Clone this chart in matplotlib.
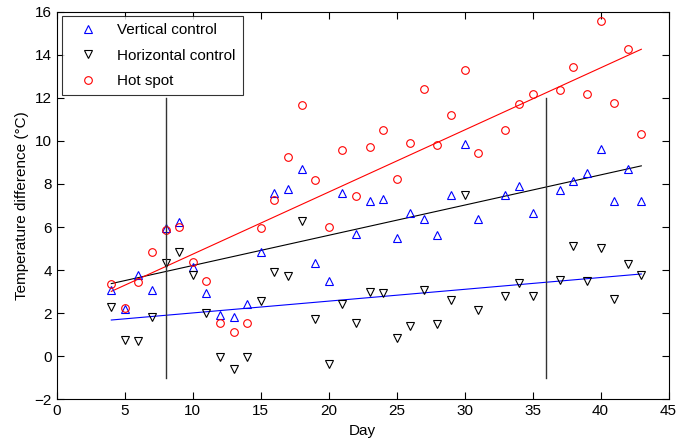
import numpy as np
import matplotlib
matplotlib.use("Agg")
import matplotlib.pyplot as plt

plt.rcParams['font.family'] = ['Liberation Sans', 'DejaVu Sans']

days = [4, 5, 6, 7, 8, 9, 10, 11, 12, 13, 14, 15, 16, 17, 18, 19, 20, 21, 22,
        23, 24, 25, 26, 27, 28, 29, 30, 31, 33, 34, 35, 37, 38, 39, 40, 41, 42, 43]

vertical = [3.09, 2.18, 3.75, 3.06, 5.95, 6.23, 4.14, 2.93, 1.91, 1.80, 2.42, 4.86,
            7.56, 7.75, 8.71, 4.35, 3.50, 7.56, 5.69, 7.20, 7.28, 5.49, 6.67, 6.35,
            5.65, 7.50, 9.87, 6.38, 7.48, 7.91, 6.67, 7.72, 8.14, 8.53, 9.65, 7.23,
            8.71, 7.23]

horizontal = [2.27, 0.74, 0.71, 1.80, 4.35, 4.85, 3.75, 2.02, -0.05, -0.60, -0.02, 2.55,
              3.91, 3.72, 6.26, 1.71, -0.39, 2.42, 1.52, 2.96, 2.93, 0.82, 1.40, 3.06,
              1.47, 2.59, 7.51, 2.15, 2.78, 3.40, 2.78, 3.56, 5.10, 3.48, 5.02, 2.65,
              4.30, 3.75]

hot_spot = [3.36, 2.23, 3.45, 4.82, 5.88, 6.02, 4.38, 3.51, 1.55, 1.13, 1.55, 5.95,
            7.25, 9.25, 11.69, 8.19, 5.99, 9.57, 7.44, 9.74, 10.51, 8.24, 9.90, 12.42,
            9.79, 11.22, 13.29, 9.44, 10.53, 11.70, 12.19, 12.39, 13.44, 12.19, 15.56,
            11.78, 14.26, 10.31]

marker_days = [8, 36]

fig = plt.figure(figsize=(6.78, 4.41), dpi=100)
ax = fig.add_axes([0.084, 0.095, 0.902, 0.878])

d = np.array(days, dtype=float)
xfit = np.array([d.min(), d.max()])

# fitted trends (line colours as in the source figure)
for series, col in [(horizontal, 'blue'), (vertical, 'black'), (hot_spot, 'red')]:
    k, b = np.polyfit(d, series, 1)
    ax.plot(xfit, k * xfit + b, color=col, lw=0.8)

ax.plot(days, vertical, '^', mfc='none', mec='blue', ms=6, mew=0.8, label='Vertical control')
ax.plot(days, horizontal, 'v', mfc='none', mec='black', ms=6, mew=0.8, label='Horizontal control')
ax.plot(days, hot_spot, 'o', mfc='none', mec='red', ms=5.5, mew=0.8, label='Hot spot')

for xd in marker_days:
    ax.plot([xd, xd], [-1, 12], color='#333333', lw=1)

ax.set_xlim(0, 45)
ax.set_ylim(-2, 16)
ax.set_xticks(range(0, 46, 5))
ax.set_yticks(range(-2, 17, 2))
ax.set_yticklabels(['\u22122'] + [str(v) for v in range(0, 17, 2)])
ax.tick_params(direction='in', top=True, right=True, labelsize=11, length=5)
ax.set_xlabel('Day', fontsize=11)
ax.set_ylabel('Temperature difference (\u00b0C)', fontsize=11)

leg = ax.legend(loc='upper left', fontsize=11, fancybox=False, edgecolor='black',
                borderaxespad=0.3, handletextpad=0.6, labelspacing=0.75,
                handlelength=2.6, borderpad=0.45)
leg.get_frame().set_linewidth(0.8)

fig.savefig('out.png', dpi=100)
